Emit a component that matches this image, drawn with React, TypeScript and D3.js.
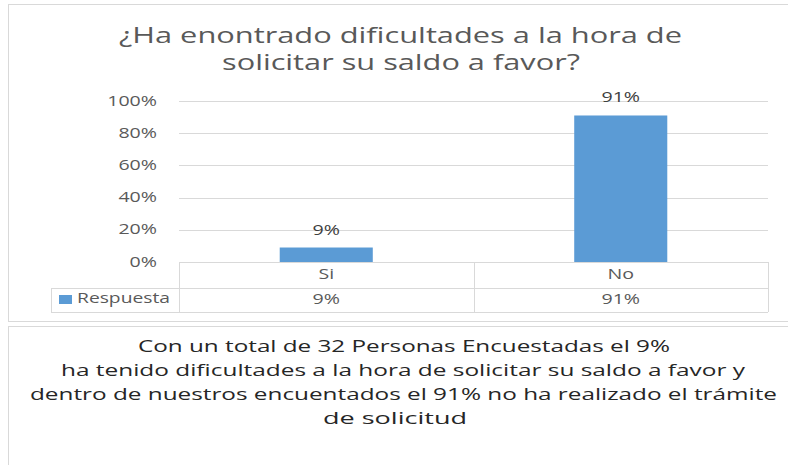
import React from "react";
import * as d3 from "d3";

const categories = ["Si", "No"];
const values = [0.09, 0.91];
const seriesName = "Respuesta";
const yTicks = [0, 0.2, 0.4, 0.6, 0.8, 1.0];
const titleLines = ["¿Ha enontrado dificultades a la hora de", "solicitar su saldo a favor?"];
const noteLines = [
  "Con un total de 32 Personas Encuestadas el 9%",
  "ha tenido dificultades a la hora de solicitar su saldo a favor y",
  "dentro de nuestros encuentados el 91% no ha realizado el trámite",
  "de solicitud",
];

const W = 788;
const H = 465;
const FONT = "'Open Sans', 'Liberation Sans', sans-serif";
const GRID = "#d9d9d9";
const TXT = "#595959";
const BAR = "#5b9bd5";
const SX = 1.4; // horizontal stretch of the reference image

const plot = { left: 179, right: 768, top: 101, bottom: 262 };
const row1Bottom = 288;
const row2Bottom = 312;
const legendLeft = 51;

const titleLayout = [
  { cx: 400.5, y: 43, w: 563 },
  { cx: 401, y: 70, w: 358 },
];
const noteLayout = [
  { cx: 404, y: 352, w: 532 },
  { cx: 403, y: 376, w: 684 },
  { cx: 403.5, y: 400, w: 747 },
  { cx: 395, y: 424, w: 144 },
];

function SText(props: {
  x: number;
  y: number;
  anchor?: "start" | "middle" | "end";
  size: number;
  fill: string;
  children: React.ReactNode;
}) {
  const { x, y, anchor = "middle", size, fill, children } = props;
  return (
    <g transform={`translate(${x},${y}) scale(${SX},1)`}>
      <text x={0} y={0} textAnchor={anchor} fontSize={size} fill={fill}>
        {children}
      </text>
    </g>
  );
}

export default function App() {
  const x = d3.scaleBand<string>().domain(categories).range([plot.left, plot.right]).padding(0);
  const y = d3.scaleLinear().domain([0, 1]).range([plot.bottom, plot.top]);
  const pct = d3.format(".0%");
  const barW = x.bandwidth() * 0.316;

  return (
    <svg
      width={W}
      height={H}
      style={{ position: "absolute", left: 0, top: 0, background: "#fff" }}
      fontFamily={FONT}
    >
      <rect x={0} y={0} width={W} height={H} fill="#fff" />
      {/* chart box */}
      <rect x={8.5} y={4.5} width={W + 10} height={317} fill="#fff" stroke={GRID} strokeWidth={1} />
      {/* text box */}
      <rect x={8.5} y={326.5} width={W + 10} height={H} fill="#fff" stroke={GRID} strokeWidth={1} />

      {/* title */}
      {titleLines.map((t, i) => (
        <text
          key={t}
          x={titleLayout[i].cx}
          y={titleLayout[i].y}
          textAnchor="middle"
          fontSize={21}
          fill={TXT}
          textLength={titleLayout[i].w}
          lengthAdjust="spacingAndGlyphs"
        >
          {t}
        </text>
      ))}

      {/* gridlines and y tick labels */}
      {yTicks.map((t) => (
        <g key={t}>
          {t > 0 && (
            <line
              x1={plot.left}
              x2={plot.right}
              y1={Math.round(y(t)) + 0.5}
              y2={Math.round(y(t)) + 0.5}
              stroke={GRID}
              strokeWidth={1}
            />
          )}
          <SText x={157} y={y(t) + 4.5} anchor="end" size={14} fill={TXT}>
            {pct(t)}
          </SText>
        </g>
      ))}

      {/* bars */}
      {categories.map((c, i) => {
        const cx = (x(c) as number) + x.bandwidth() / 2;
        return (
          <g key={c}>
            <rect
              x={cx - barW / 2}
              y={y(values[i])}
              width={barW}
              height={y(0) - y(values[i])}
              fill={BAR}
            />
            <SText x={cx} y={y(values[i]) - 13} size={14} fill="#404040">
              {pct(values[i])}
            </SText>
          </g>
        );
      })}

      {/* data table */}
      <g stroke={GRID} strokeWidth={1} fill="none">
        <line x1={plot.left} x2={plot.right} y1={plot.bottom + 0.5} y2={plot.bottom + 0.5} />
        <line x1={legendLeft} x2={plot.right} y1={row1Bottom + 0.5} y2={row1Bottom + 0.5} />
        <line x1={legendLeft} x2={plot.right} y1={row2Bottom + 0.5} y2={row2Bottom + 0.5} />
        <line x1={legendLeft + 0.5} x2={legendLeft + 0.5} y1={row1Bottom} y2={row2Bottom} />
        <line x1={plot.left + 0.5} x2={plot.left + 0.5} y1={plot.bottom} y2={row2Bottom} />
        {categories.slice(1).map((c) => (
          <line
            key={c}
            x1={Math.round(x(c) as number) + 0.5}
            x2={Math.round(x(c) as number) + 0.5}
            y1={plot.bottom}
            y2={row2Bottom}
          />
        ))}
        <line x1={plot.right + 0.5} x2={plot.right + 0.5} y1={plot.bottom} y2={row2Bottom} />
      </g>
      {categories.map((c, i) => {
        const cx = (x(c) as number) + x.bandwidth() / 2;
        return (
          <g key={c}>
            <SText x={cx} y={279} size={14} fill={TXT}>
              {c}
            </SText>
            <SText x={cx} y={304} size={14} fill={TXT}>
              {pct(values[i])}
            </SText>
          </g>
        );
      })}
      <rect x={59} y={295} width={13} height={9} fill={BAR} />
      <text x={77} y={303} fontSize={14} fill={TXT} textLength={93} lengthAdjust="spacingAndGlyphs">
        {seriesName}
      </text>

      {/* note text */}
      {noteLines.map((t, i) => (
        <text
          key={t}
          x={noteLayout[i].cx}
          y={noteLayout[i].y}
          textAnchor="middle"
          fontSize={17}
          fill="#262626"
          textLength={noteLayout[i].w}
          lengthAdjust="spacingAndGlyphs"
        >
          {t}
        </text>
      ))}
    </svg>
  );
}
